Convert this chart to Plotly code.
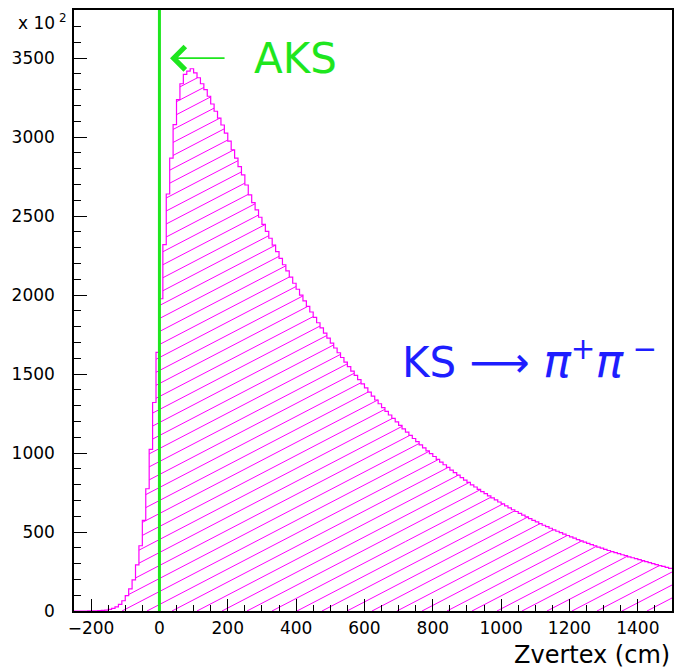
import numpy as np
import plotly.graph_objects as go

# ---- data: histogram of Zvertex (cm), 10 cm bins from -250 to 1500, counts in units of 10^2
bin_lo = -250
bin_hi = 1500
bin_width = 10
counts = [
    0, 0, 0, 0, 0.5,
    1, 1.5, 2.5, 4, 6, 10, 16, 26, 42, 65,
    97, 140, 197, 292, 413, 574, 774, 1023, 1320, 1638,
    1977, 2320, 2640, 2867, 3079, 3238, 3338, 3397, 3418, 3433,
    3407, 3376, 3338, 3301, 3259, 3210, 3164, 3121, 3077, 3026,
    2975, 2920, 2867, 2814, 2761, 2697, 2634,
    2586, 2539, 2493, 2448, 2403, 2360, 2317, 2275, 2233, 2192,
    2153, 2114, 2075, 2037, 2000, 1964, 1928, 1893, 1859, 1825,
    1792, 1759, 1727, 1696, 1665, 1635, 1605, 1576, 1547, 1519,
    1492, 1465, 1438, 1412, 1386, 1361, 1336, 1312, 1288, 1264,
    1241, 1219, 1197, 1175, 1153, 1132, 1112, 1092, 1072, 1052,
    1033, 1014, 996, 978, 960, 943, 926, 909, 892, 876,
    860, 845, 829, 814, 799, 785, 770, 756, 743, 729,
    716, 703, 690, 678, 665, 653, 641, 630, 618, 607,
    596, 585, 574, 564, 553, 543, 534, 524, 514, 505,
    496, 487, 478, 469, 461, 452, 444, 436, 428, 420,
    413, 405, 398, 390, 383, 376, 369, 363, 356, 350,
    343, 337, 331, 325, 319, 312, 306, 300, 294, 287,
    282, 276, 270,
]
x_ticks = [-200, 0, 200, 400, 600, 800, 1000, 1200, 1400]
y_ticks = [0, 500, 1000, 1500, 2000, 2500, 3000, 3500]
x_title = "Zvertex (cm)"
y_scale_label = "x 10<sup> 2</sup>"
cut_label = "AKS"
cut_position = 0
decay_label = ("KS ⟶ <span style='font-size:46px'><i>π</i></span><sup>+</sup>"
               "<span style='font-size:46px'><i>π</i></span><sup> −</sup>")

# ---- styles
MAGENTA = "#ff00ff"
GREEN = "#1ee61e"
BLUE = "#1e1eff"
X_RANGE = [-250, 1500]
Y_RANGE = [0, 3805]
W, H = 674, 668
ML, MR, MT, MB = 74, 2, 10, 57

edges = np.arange(bin_lo, bin_hi + bin_width, bin_width, dtype=float)
vals = np.array(counts, dtype=float)
assert len(vals) == len(edges) - 1

# pixel scales (for hatch geometry)
px_per_x = (W - ML - MR) / (X_RANGE[1] - X_RANGE[0])
px_per_y = (H - MT - MB) / (Y_RANGE[1] - Y_RANGE[0])
pix_slope = 0.52       # hatch angle in pixel space
pix_spacing = 13.0     # vertical spacing of hatch lines, pixels
slope = pix_slope * px_per_x / px_per_y
spacing = pix_spacing / px_per_y

hx, hy = [], []
c_start = -slope * X_RANGE[1]
c_end = vals.max() - slope * X_RANGE[0]
for c in np.arange(c_start, c_end + spacing, spacing):
    last = None
    for i in range(len(vals)):
        h = vals[i]
        if h <= 0:
            continue
        x0, x1 = edges[i], edges[i + 1]
        xa = max(x0, (0 - c) / slope)
        xb = min(x1, (h - c) / slope)
        if xb <= xa:
            continue
        ya, yb = slope * xa + c, slope * xb + c
        if last is not None and abs(last[0] - xa) < 1e-6 and abs(last[1] - ya) < 1e-6:
            hx.append(xb); hy.append(yb)
        else:
            if hx:
                hx.append(None); hy.append(None)
            hx += [xa, xb]; hy += [ya, yb]
        last = (xb, yb)

fig = go.Figure()
fig.add_trace(go.Scatter(x=hx, y=hy, mode="lines",
                         line=dict(color=MAGENTA, width=1), hoverinfo="skip",
                         showlegend=False))
# step outline
sx = list(edges)
sy = list(vals) + [vals[-1]]
fig.add_trace(go.Scatter(x=[edges[0]] + sx, y=[0] + sy, mode="lines",
                         line=dict(color=MAGENTA, width=1.2, shape="hv"),
                         showlegend=False))

# vertical cut line
fig.add_shape(type="line", xref="x", yref="paper", x0=cut_position, x1=cut_position,
              y0=0, y1=1, line=dict(color=GREEN, width=3), layer="above")

# arrow + label
fig.add_annotation(x=31, y=3500, ax=195, ay=3500, xref="x", yref="y",
                   axref="x", ayref="y", text="", showarrow=True,
                   arrowhead=4, arrowsize=2.5, arrowwidth=1.8, arrowcolor=GREEN)
fig.add_annotation(x=271, y=3500, xref="x", yref="y", text=cut_label,
                   showarrow=False, xanchor="left", yanchor="middle",
                   font=dict(family="DejaVu Sans", size=42, color=GREEN))
fig.add_annotation(x=705, y=1590, xref="x", yref="y", text=decay_label,
                   showarrow=False, xanchor="left", yanchor="middle",
                   font=dict(family="DejaVu Sans", size=42, color=BLUE))
fig.add_annotation(x=(16 - ML) / (W - ML - MR), y=(H - MB - 22) / (H - MT - MB),
                   xref="paper", yref="paper", text=y_scale_label, showarrow=False,
                   xanchor="left", yanchor="middle",
                   font=dict(family="DejaVu Sans", size=17, color="black"))
fig.add_annotation(x=1, y=-(655 - (H - MB)) / (H - MT - MB), xref="paper", yref="paper",
                   text=x_title, showarrow=False, xanchor="right", yanchor="middle",
                   font=dict(family="DejaVu Sans", size=24, color="black"))

axis_common = dict(showline=True, linecolor="black", linewidth=1.5, mirror=True,
                   ticks="inside", tickcolor="black", tickwidth=1.2,
                   showgrid=False, zeroline=False, automargin=False,
                   tickfont=dict(family="DejaVu Sans", size=17, color="black"))
fig.update_xaxes(range=X_RANGE, tickmode="array", tickvals=x_ticks, ticklen=12,
                 minor=dict(dtick=50, tick0=0, ticklen=6, ticks="inside",
                            tickcolor="black", tickwidth=1.2),
                 ticklabelstandoff=1, **axis_common)
fig.update_yaxes(range=Y_RANGE, tickmode="array", tickvals=y_ticks, ticklen=13,
                 minor=dict(dtick=100, tick0=0, ticklen=7, ticks="inside",
                            tickcolor="black", tickwidth=1.2),
                 ticklabelstandoff=14, **axis_common)
fig.update_layout(width=W, height=H, margin=dict(l=ML, r=MR, t=MT, b=MB),
                  plot_bgcolor="white", paper_bgcolor="white", showlegend=False)
fig.write_html("out.html", config={"displayModeBar": False},
               post_script="document.body.style.margin='0';"
                           "document.body.style.overflow='hidden';")
